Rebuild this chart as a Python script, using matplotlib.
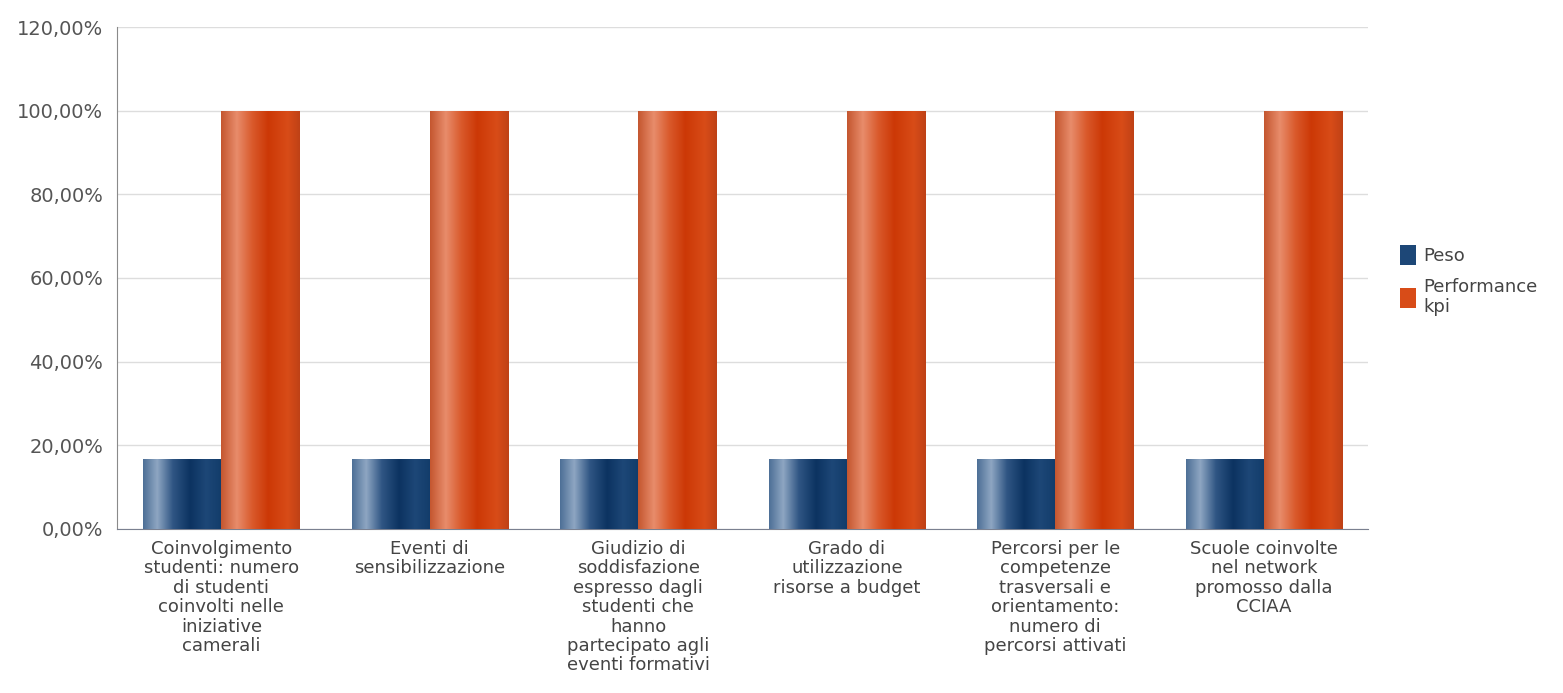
import matplotlib
matplotlib.use("Agg")
import matplotlib.pyplot as plt
import numpy as np
from matplotlib.colors import LinearSegmentedColormap
from matplotlib.patches import Patch
from matplotlib.ticker import FuncFormatter

plt.rcParams["font.family"] = ["DejaVu Sans"]

categories = [
    "Coinvolgimento\nstudenti: numero\ndi studenti\ncoinvolti nelle\niniziative\ncamerali",
    "Eventi di\nsensibilizzazione",
    "Giudizio di\nsoddisfazione\nespresso dagli\nstudenti che\nhanno\npartecipato agli\neventi formativi",
    "Grado di\nutilizzazione\nrisorse a budget",
    "Percorsi per le\ncompetenze\ntrasversali e\norientamento:\nnumero di\npercorsi attivati",
    "Scuole coinvolte\nnel network\npromosso dalla\nCCIAA",
]
peso = [16.67, 16.67, 16.67, 16.67, 16.67, 16.67]
performance = [100.0, 100.0, 100.0, 100.0, 100.0, 100.0]
series_names = ["Peso", "Performance\nkpi"]

blue_cmap = LinearSegmentedColormap.from_list("blu", [
    (0.0, "#4d6f96"), (0.18, "#8ea6c2"), (0.38, "#2f5583"),
    (0.6, "#0c3361"), (0.8, "#1d4777"), (1.0, "#123c6a")])
orange_cmap = LinearSegmentedColormap.from_list("ora", [
    (0.0, "#c4562f"), (0.2, "#e88c6b"), (0.4, "#d9592b"),
    (0.6, "#cc3806"), (0.85, "#d84c18"), (1.0, "#bf4116")])

fig = plt.figure(figsize=(15.63, 6.93), dpi=100)
ax = fig.add_axes([0.0749, 0.2367, 0.8004, 0.7243])

x = np.arange(len(categories))
w = 0.375
grad = np.linspace(0, 1, 256).reshape(1, -1)


def gradient_bars(xs, vals, cmap):
    bars = ax.bar(xs, vals, w, color="none", edgecolor="none", zorder=3)
    for b in bars:
        x0, y0 = b.get_x(), b.get_y()
        im = ax.imshow(grad, cmap=cmap, aspect="auto", zorder=3,
                       extent=[x0, x0 + b.get_width(), y0, y0 + b.get_height()])
        im.set_clip_path(b)
    return bars


gradient_bars(x - w / 2, peso, blue_cmap)
gradient_bars(x + w / 2, performance, orange_cmap)

ax.set_xlim(-0.5, len(categories) - 0.5)
ax.set_ylim(0, 120)
ax.set_yticks(np.arange(0, 121, 20))
ax.yaxis.set_major_formatter(FuncFormatter(lambda v, p: f"{v:.2f}%".replace(".", ",")))
ax.set_xticks(x)
ax.set_xticklabels(categories, fontsize=13, color="#444444", linespacing=1.1,
                   va="top")
ax.tick_params(axis="x", length=0, pad=8)
ax.tick_params(axis="y", length=0, pad=10, labelsize=14, labelcolor="#555555")
ax.grid(axis="y", color="#dddddd", linewidth=1, zorder=0)
ax.set_axisbelow(True)
for s in ["top", "right"]:
    ax.spines[s].set_visible(False)
ax.spines["left"].set_color("#8a8a8a")
ax.spines["bottom"].set_color("#7a8090")

handles = [Patch(facecolor="#1d4777"), Patch(facecolor="#d84c18")]
fig.legend(handles, series_names, loc="center left", bbox_to_anchor=(0.885, 0.595),
           frameon=False, fontsize=13, handlelength=0.9, handleheight=1.3,
           handletextpad=0.4, labelspacing=0.7, labelcolor="#444444")

fig.savefig("out.png", dpi=100)
